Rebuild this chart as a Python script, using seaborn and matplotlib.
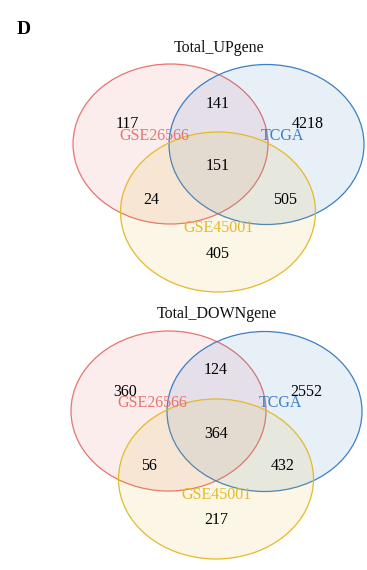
import matplotlib
matplotlib.use("Agg")
import matplotlib.pyplot as plt
from matplotlib.patches import Ellipse
import seaborn as sns

sns.set_theme(style="white")
plt.rcParams["font.family"] = ["Liberation Serif", "DejaVu Serif"]

# Set names and their colours
set_names = ["GSE26566", "TCGA", "GSE45001"]
set_colors = ["#E8736F", "#3B7FC4", "#E3BA2A"]

# Region counts: only A, only B, only C, A&B, A&C, B&C, A&B&C
up_title = "Total_UPgene"
up_counts = [117, 4218, 405, 141, 24, 505, 151]
down_title = "Total_DOWNgene"
down_counts = [360, 2552, 217, 124, 56, 432, 364]

W, H = 367, 570
fig = plt.figure(figsize=(W / 100, H / 100), dpi=100)
ax = fig.add_axes([0, 0, 1, 1])
ax.set_xlim(0, W)
ax.set_ylim(H, 0)
ax.axis("off")

RX, RY = 97.5, 80.0
FS = 11.5


def venn3(ax, ox, oy, title, counts):
    # ellipse centres relative to the first set's centre
    centres = [(0, 0), (96, 0.5), (47.5, 68)]
    for (dx, dy), col in zip(centres, set_colors):
        ax.add_patch(Ellipse((ox + dx, oy + dy), 2 * RX, 2 * RY,
                             facecolor=col, alpha=0.12, edgecolor="none"))
        ax.add_patch(Ellipse((ox + dx, oy + dy), 2 * RX, 2 * RY,
                             facecolor="none", edgecolor=col, lw=0.9))
    # set labels
    label_pos = [(-16.5, -8), (111.5, -8), (47.5, 84)]
    for name, (dx, dy), col in zip(set_names, label_pos, set_colors):
        ax.text(ox + dx, oy + dy, name, color=col, fontsize=FS,
                ha="center", va="center")
    # region counts
    count_pos = [(-43.5, -19.5), (137.5, -19.5), (47.5, 109.5),
                 (47.5, -40.5), (-19.5, 55.5), (114.5, 55.5), (47.5, 22.5)]
    for n, (dx, dy) in zip(counts, count_pos):
        ax.text(ox + dx, oy + dy, str(n), color="black", fontsize=FS,
                ha="center", va="center")
    ax.text(ox + 48, oy - 96.5, title, color="#111111", fontsize=FS,
            ha="center", va="center")


venn3(ax, 170.5, 144.0, up_title, up_counts)
venn3(ax, 168.5, 411.0, down_title, down_counts)

ax.text(24, 29, "D", fontsize=14, fontweight="bold", color="black",
        ha="center", va="center")

fig.savefig("out.png", dpi=100)
